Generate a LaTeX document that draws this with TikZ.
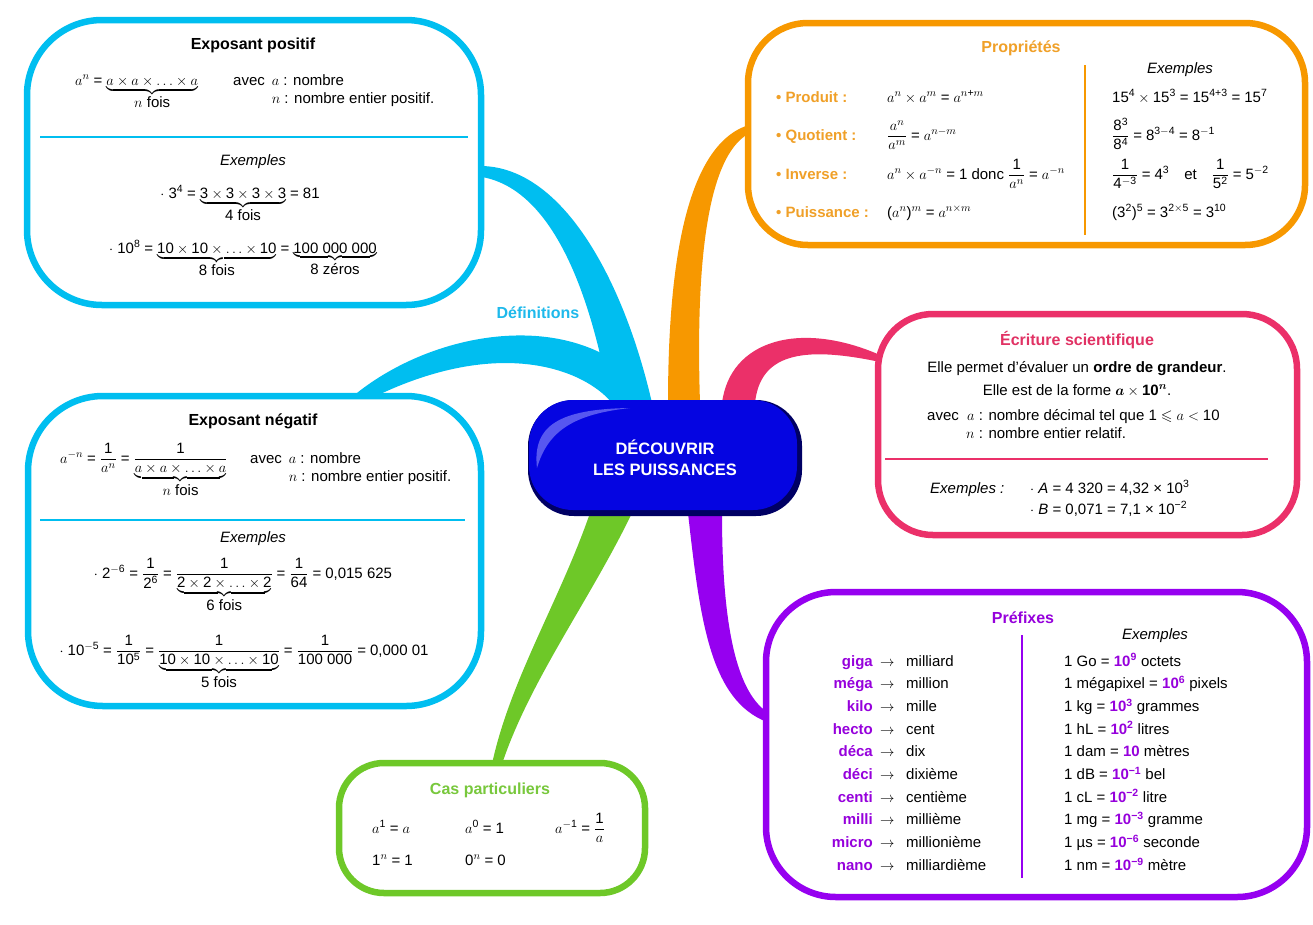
\documentclass[tikz,border=0pt]{standalone}
\usepackage{amsmath,amssymb}
\usepackage{fontspec}
\setmainfont{Liberation Sans}
\DeclareSymbolFont{sfnum}{TU}{\rmdefault}{m}{n}
\SetSymbolFont{sfnum}{bold}{TU}{\rmdefault}{b}{n}
\newcommand\sfmathdigits{%
  \Umathcode`0=7 \symsfnum `0\relax
  \Umathcode`1=7 \symsfnum `1\relax
  \Umathcode`2=7 \symsfnum `2\relax
  \Umathcode`3=7 \symsfnum `3\relax
  \Umathcode`4=7 \symsfnum `4\relax
  \Umathcode`5=7 \symsfnum `5\relax
  \Umathcode`6=7 \symsfnum `6\relax
  \Umathcode`7=7 \symsfnum `7\relax
  \Umathcode`8=7 \symsfnum `8\relax
  \Umathcode`9=7 \symsfnum `9\relax
  \Umathcode`\==3 \symsfnum `\=\relax
  \Umathcode`\+=2 \symsfnum `\+\relax
  \Umathcode`\(=4 \symsfnum `\(\relax
  \Umathcode`\)=5 \symsfnum `\)\relax}
\definecolor{cyanB}{RGB}{0,190,240}
\definecolor{cyanT}{RGB}{30,185,235}
\definecolor{orangeB}{RGB}{247,152,0}
\definecolor{orangeT}{RGB}{240,160,40}
\definecolor{pinkB}{RGB}{235,48,105}
\definecolor{pinkT}{RGB}{225,50,100}
\definecolor{purpleB}{RGB}{150,0,240}
\definecolor{purpleT}{RGB}{150,0,220}
\definecolor{greenB}{RGB}{110,200,40}
\definecolor{greenT}{RGB}{120,200,60}
\definecolor{navyC}{RGB}{0,0,100}
\definecolor{royalC}{RGB}{5,5,225}
\definecolor{glossC}{RGB}{170,170,255}
\newcommand\pwr[1]{\textcolor{purpleT}{\textbf{#1}}}
\tikzset{
  txt/.style={font=\fontsize{15}{18}\selectfont, inner sep=0pt},
  exm/.style={font=\fontsize{15}{18}\selectfont\itshape, inner sep=0pt},
  ttl/.style={font=\fontsize{16}{19}\selectfont\bfseries, inner sep=0pt},
  lbl/.style={font=\fontsize{15}{18}\selectfont\bfseries, inner sep=0pt},
  boxline/.style={line width=6.5pt, fill=white},
  sepline/.style={line width=1.5pt},
}
\begin{document}
\begin{tikzpicture}[x=1pt,y=-1pt]
\sfmathdigits
\useasboundingbox (0,0) rectangle (1313,924);
% ---------- branches ----------
\fill[cyanB] (482,166) .. controls (565,168) and (625,285) .. (652,403) -- (610,403) .. controls (592,300) and (555,190) .. (482,177) -- cycle;
\fill[cyanB] (352,397) .. controls (420,340) and (530,315) .. (605,355) .. controls (625,368) and (640,390) .. (645,403) -- (612,403) .. controls (585,370) and (500,335) .. (372,398) -- cycle;
\fill[orangeB] (668,403) .. controls (668,250) and (690,140) .. (752,124) -- (752,132) .. controls (710,150) and (695,250) .. (700,403) -- cycle;
\fill[pinkB] (722,403) .. controls (730,340) and (800,320) .. (880,355) -- (880,362) .. controls (800,345) and (760,355) .. (755,403) -- cycle;
\fill[greenB] (590,513) .. controls (560,600) and (510,680) .. (492,764) -- (502,764) .. controls (530,680) and (590,600) .. (632,513) -- cycle;
\fill[purpleB] (688,513) .. controls (700,620) and (710,700) .. (767,722) -- (767,712) .. controls (735,690) and (722,620) .. (722,513) -- cycle;
% ---------- boxes ----------
\draw[boxline, draw=cyanB, rounded corners=75pt] (27,20) rectangle (481,305);
\draw[boxline, draw=cyanB, rounded corners=75pt] (28,396) rectangle (481,706);
\draw[boxline, draw=orangeB, rounded corners=60pt] (748,23) rectangle (1305,245);
\draw[boxline, draw=pinkB, rounded corners=55pt] (878,314) rectangle (1297,535);
\draw[boxline, draw=purpleB, rounded corners=70pt] (766,592) rectangle (1307,897);
\draw[boxline, draw=greenB, rounded corners=45pt] (339,763) rectangle (645,893);
% ---------- centre ----------
\fill[navyC, rounded corners=46pt] (528,400) rectangle (802,516);
\fill[royalC, rounded corners=44pt] (529,400) rectangle (797,510);
\fill[glossC, opacity=0.5] (537,468) .. controls (532,425) and (560,409) .. (630,408) .. controls (575,414) and (548,430) .. (537,468) -- cycle;
\node[font=\fontsize{16.5}{21}\selectfont\bfseries, text=white, align=center, inner sep=0pt] (centre) at (665,458) {DÉCOUVRIR\\LES PUISSANCES};
\node[ttl, text=cyanT] (defs) at (538,313) {Définitions};
% ---------- Exposant positif ----------
\node[ttl] (t1) at (253,45) {Exposant positif};
\node[txt, anchor=base west] (f1) at (75,85) {$a^n = \underbrace{a\times a\times \ldots \times a}_{\textstyle n\text{ fois}}$};
\node[txt, anchor=base west] (av1) at (233,85) {\begin{tabular}[t]{@{}l@{\hspace{7pt}}l@{}}avec & $a$ : nombre\\ & $n$ : nombre entier positif.\end{tabular}};
\draw[cyanB, sepline] (40,137) -- (468,137);
\node[exm] (ex1) at (253,162) {Exemples};
\node[txt, anchor=base] (e11) at (240,198) {$\cdot\ 3^4 = \underbrace{3\times3\times3\times3}_{\textstyle 4\text{ fois}} = 81$};
\node[txt, anchor=base] (e12) at (243,253) {$\cdot\ 10^8 = \underbrace{10\times10\times\ldots\times10}_{\textstyle 8\text{ fois}} = \underbrace{\text{100 000 000}}_{\textstyle 8\text{ zéros}}$};
% ---------- Exposant negatif ----------
\node[ttl] (t2) at (253,421) {Exposant négatif};
\node[txt, anchor=base west] (f2) at (60,463) {$a^{-n} = \dfrac{1}{a^n} = \dfrac{1}{\underbrace{a\times a\times\ldots\times a}_{\textstyle n\text{ fois}}}$};
\node[txt, anchor=base west] (av2) at (250,463) {\begin{tabular}[t]{@{}l@{\hspace{7pt}}l@{}}avec & $a$ : nombre\\ & $n$ : nombre entier positif.\end{tabular}};
\draw[cyanB, sepline] (40,520) -- (465,520);
\node[exm] (ex2) at (253,539) {Exemples};
\node[txt, anchor=base] (e21) at (243,578) {$\cdot\ 2^{-6} = \dfrac{1}{2^6} = \dfrac{1}{\underbrace{2\times2\times\ldots\times2}_{\textstyle 6\text{ fois}}} = \dfrac{1}{64} = \text{0,015 625}$};
\node[txt, anchor=base] (e22) at (244,655) {$\cdot\ 10^{-5} = \dfrac{1}{10^5} = \dfrac{1}{\underbrace{10\times10\times\ldots\times10}_{\textstyle 5\text{ fois}}} = \dfrac{1}{\text{100 000}} = \text{0,000 01}$};
% ---------- Proprietes ----------
\node[ttl, text=orangeT] (t3) at (1021,48) {Propriétés};
\draw[orangeB, sepline] (1085,65) -- (1085,235);
\node[lbl, text=orangeT, anchor=base west] (p1) at (776,102) {\textbullet\ Produit :};
\node[lbl, text=orangeT, anchor=base west] (p2) at (776,140) {\textbullet\ Quotient :};
\node[lbl, text=orangeT, anchor=base west] (p3) at (776,179) {\textbullet\ Inverse :};
\node[lbl, text=orangeT, anchor=base west] (p4) at (776,217) {\textbullet\ Puissance :};
\node[txt, anchor=base west] (q1) at (887,102) {$a^n\times a^m = a^{n+m}$};
\node[txt, anchor=base west] (q2) at (887,140) {$\dfrac{a^n}{a^m} = a^{n-m}$};
\node[txt, anchor=base west] (q3) at (887,179) {$a^n\times a^{-n} = 1$ donc $\dfrac{1}{a^n} = a^{-n}$};
\node[txt, anchor=base west] (q4) at (887,217) {$(a^n)^m = a^{n\times m}$};
\node[exm] (ex3) at (1180,70) {Exemples};
\node[txt, anchor=base west] (r1) at (1112,102) {$15^4\times 15^3 = 15^{4+3} = 15^7$};
\node[txt, anchor=base west] (r2) at (1112,140) {$\dfrac{8^3}{8^4} = 8^{3-4} = 8^{-1}$};
\node[txt, anchor=base west] (r3) at (1112,179) {$\dfrac{1}{4^{-3}} = 4^3$\quad et\quad $\dfrac{1}{5^2} = 5^{-2}$};
\node[txt, anchor=base west] (r4) at (1112,217) {$(3^2)^5 = 3^{2\times5} = 3^{10}$};
% ---------- Ecriture scientifique ----------
\node[ttl, text=pinkT] (t4) at (1077,340) {Écriture scientifique};
\node[txt] (s1) at (1077,369) {Elle permet d’évaluer un \textbf{ordre de grandeur}.};
\node[txt] (s2) at (1077,391) {Elle est de la forme $\boldsymbol{a}\times\textbf{10}^{\boldsymbol{n}}$.};
\node[txt, anchor=base west] (s3) at (927,420) {avec\ \ $a$ : nombre décimal tel que $1\leqslant a<10$};
\node[txt, anchor=base west] (s4) at (966,438) {$n$ : nombre entier relatif.};
\draw[pinkB, sepline] (885,459) -- (1268,459);
\node[exm, anchor=base west] (ex4) at (930,493) {Exemples :};
\node[txt, anchor=base west] (s5) at (1030,493) {$\cdot$\ \textit{A} = 4 320 = 4,32 × 10\textsuperscript{3}};
\node[txt, anchor=base west] (s6) at (1030,514) {$\cdot$\ \textit{B} = 0,071 = 7,1 × 10\textsuperscript{−2}};
% ---------- Prefixes ----------
\node[ttl, text=purpleT] (t5) at (1023,618) {Préfixes};
\draw[purpleB, sepline] (1022,635) -- (1022,878);
\node[exm] (ex5) at (1155,636) {Exemples};
\foreach \p/\m/\e [count=\i from 0] in {
 giga/milliard/{1 Go = \pwr{10\textsuperscript{9}} octets},
 méga/million/{1 mégapixel = \pwr{10\textsuperscript{6}} pixels},
 kilo/mille/{1 kg = \pwr{10\textsuperscript{3}} grammes},
 hecto/cent/{1 hL = \pwr{10\textsuperscript{2}} litres},
 déca/dix/{1 dam = \pwr{10} mètres},
 déci/dixième/{1 dB = \pwr{10\textsuperscript{−1}} bel},
 centi/centième/{1 cL = \pwr{10\textsuperscript{−2}} litre},
 milli/millième/{1 mg = \pwr{10\textsuperscript{−3}} gramme},
 micro/millionième/{1 µs = \pwr{10\textsuperscript{−6}} seconde},
 nano/milliardième/{1 nm = \pwr{10\textsuperscript{−9}} mètre}}
{
 \pgfmathsetmacro\yy{666+\i*22.7}
 \node[lbl, text=purpleT, anchor=base east] (pf\i) at (873,\yy) {\p};
 \node[txt, anchor=base west] (ar\i) at (880,\yy) {$\rightarrow$};
 \node[txt, anchor=base west] (mn\i) at (906,\yy) {\m};
 \node[txt, anchor=base west] (xe\i) at (1064,\yy) {\e};
}
% ---------- Cas particuliers ----------
\node[ttl, text=greenT] (t6) at (490,790) {Cas particuliers};
\node[txt, anchor=base west] (c1) at (372,833) {$a^1 = a$};
\node[txt, anchor=base west] (c2) at (465,833) {$a^0 = 1$};
\node[txt, anchor=base west] (c3) at (555,833) {$a^{-1} = \dfrac{1}{a}$};
\node[txt, anchor=base west] (c4) at (372,865) {$1^n = 1$};
\node[txt, anchor=base west] (c5) at (465,865) {$0^n = 0$};
\end{tikzpicture}
\end{document}
